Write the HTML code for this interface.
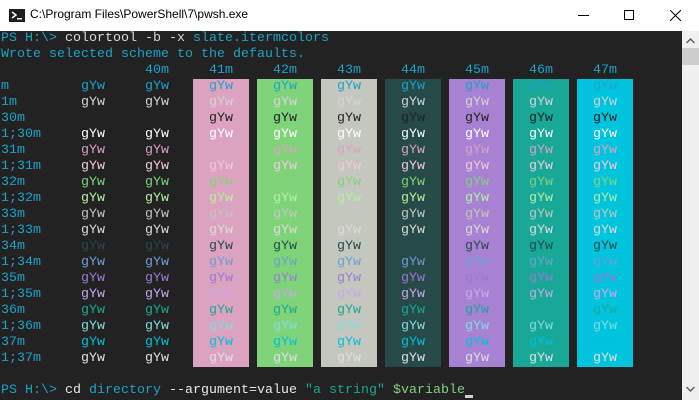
<!DOCTYPE html>
<html><head><meta charset="utf-8"><style>
*{margin:0;padding:0;box-sizing:border-box}
body{width:699px;height:400px;overflow:hidden;background:#fff;position:relative;font-family:"Liberation Mono",monospace}
#title{position:absolute;left:0;top:0;width:699px;height:31px;background:#fff}
#title .t{position:absolute;left:30px;top:7px;font:12px "Liberation Sans",sans-serif;color:#000}
#term{position:absolute;left:0;top:31px;width:682px;height:369px;background:#222222}
#sb{position:absolute;left:682px;top:31px;width:17px;height:369px;background:#f0f0f0}
.bar{position:absolute;top:48px;width:56px;height:288px}
.r{position:absolute;left:0;height:16px;width:680px;font-size:13.33px;line-height:16px;white-space:pre}
.r span{position:absolute;top:0}
.c{color:#1ba3c8}
</style></head><body>
<div id="title">
<svg style="position:absolute;left:9px;top:9px" width="16" height="13"><rect width="16" height="13" fill="#1e1e1e"/><path d="M3 3 L7 6 L3 9" stroke="#fff" stroke-width="1.5" fill="none"/><rect x="8" y="9" width="5" height="1.5" fill="#fff"/></svg>
<div class="t">C:\Program Files\PowerShell\7\pwsh.exe</div>
<div style="position:absolute;left:578px;top:15px;width:11px;height:1px;background:#000"></div>
<div style="position:absolute;left:624px;top:10px;width:10px;height:10px;border:1px solid #000"></div>
<svg style="position:absolute;left:670px;top:10px" width="11" height="11"><path d="M0 0L11 11M11 0L0 11" stroke="#000" stroke-width="1"/></svg>
</div>
<div id="term">
<div class="bar" style="left:193px;background:#dba3bf"></div>
<div class="bar" style="left:257px;background:#7fd47a"></div>
<div class="bar" style="left:321px;background:#c3c7bd"></div>
<div class="bar" style="left:385px;background:#264a48"></div>
<div class="bar" style="left:449px;background:#a882d2"></div>
<div class="bar" style="left:513px;background:#17a897"></div>
<div class="bar" style="left:577px;background:#00c4de"></div>

<div class="r" style="top:0"><span style="left:1px" class="c">PS H:\&gt; </span><span style="left:65px;color:#d8d8d8">colortool -b -x</span><span style="left:193px" class="c">slate.itermcolors</span></div>
<div class="r c" style="top:16px"><span style="left:1px">Wrote selected scheme to the defaults.</span></div>
<div class="r c" style="top:32px"><span style="left:145px">40m</span><span style="left:209px">41m</span><span style="left:273px">42m</span><span style="left:337px">43m</span><span style="left:401px">44m</span><span style="left:465px">45m</span><span style="left:529px">46m</span><span style="left:593px">47m</span></div>

<div class="r" style="top:48px;color:#1ba3c8"><span class="c" style="left:1px">m</span><span style="left:81px">gYw</span><span style="left:145px">gYw</span><span style="left:209px">gYw</span><span style="left:273px">gYw</span><span style="left:337px">gYw</span><span style="left:401px">gYw</span><span style="left:465px">gYw</span><span style="left:529px">gYw</span><span style="left:593px">gYw</span></div>
<div class="r" style="top:64px;color:#d4d4d4"><span class="c" style="left:1px">1m</span><span style="left:81px">gYw</span><span style="left:145px">gYw</span><span style="left:209px">gYw</span><span style="left:273px">gYw</span><span style="left:337px">gYw</span><span style="left:401px">gYw</span><span style="left:465px">gYw</span><span style="left:529px">gYw</span><span style="left:593px">gYw</span></div>
<div class="r" style="top:80px;color:#222222"><span class="c" style="left:1px">30m</span><span style="left:81px">gYw</span><span style="left:145px">gYw</span><span style="left:209px">gYw</span><span style="left:273px">gYw</span><span style="left:337px">gYw</span><span style="left:401px">gYw</span><span style="left:465px">gYw</span><span style="left:529px">gYw</span><span style="left:593px">gYw</span></div>
<div class="r" style="top:96px;color:#ffffff"><span class="c" style="left:1px">1;30m</span><span style="left:81px">gYw</span><span style="left:145px">gYw</span><span style="left:209px">gYw</span><span style="left:273px">gYw</span><span style="left:337px">gYw</span><span style="left:401px">gYw</span><span style="left:465px">gYw</span><span style="left:529px">gYw</span><span style="left:593px">gYw</span></div>
<div class="r" style="top:112px;color:#dba3bf"><span class="c" style="left:1px">31m</span><span style="left:81px">gYw</span><span style="left:145px">gYw</span><span style="left:209px">gYw</span><span style="left:273px">gYw</span><span style="left:337px">gYw</span><span style="left:401px">gYw</span><span style="left:465px">gYw</span><span style="left:529px">gYw</span><span style="left:593px">gYw</span></div>
<div class="r" style="top:128px;color:#f2cad9"><span class="c" style="left:1px">1;31m</span><span style="left:81px">gYw</span><span style="left:145px">gYw</span><span style="left:209px">gYw</span><span style="left:273px">gYw</span><span style="left:337px">gYw</span><span style="left:401px">gYw</span><span style="left:465px">gYw</span><span style="left:529px">gYw</span><span style="left:593px">gYw</span></div>
<div class="r" style="top:144px;color:#7fd47a"><span class="c" style="left:1px">32m</span><span style="left:81px">gYw</span><span style="left:145px">gYw</span><span style="left:209px">gYw</span><span style="left:273px">gYw</span><span style="left:337px">gYw</span><span style="left:401px">gYw</span><span style="left:465px">gYw</span><span style="left:529px">gYw</span><span style="left:593px">gYw</span></div>
<div class="r" style="top:160px;color:#b4f0a0"><span class="c" style="left:1px">1;32m</span><span style="left:81px">gYw</span><span style="left:145px">gYw</span><span style="left:209px">gYw</span><span style="left:273px">gYw</span><span style="left:337px">gYw</span><span style="left:401px">gYw</span><span style="left:465px">gYw</span><span style="left:529px">gYw</span><span style="left:593px">gYw</span></div>
<div class="r" style="top:176px;color:#c3c7bd"><span class="c" style="left:1px">33m</span><span style="left:81px">gYw</span><span style="left:145px">gYw</span><span style="left:209px">gYw</span><span style="left:273px">gYw</span><span style="left:337px">gYw</span><span style="left:401px">gYw</span><span style="left:465px">gYw</span><span style="left:529px">gYw</span><span style="left:593px">gYw</span></div>
<div class="r" style="top:192px;color:#dcdcd6"><span class="c" style="left:1px">1;33m</span><span style="left:81px">gYw</span><span style="left:145px">gYw</span><span style="left:209px">gYw</span><span style="left:273px">gYw</span><span style="left:337px">gYw</span><span style="left:401px">gYw</span><span style="left:465px">gYw</span><span style="left:529px">gYw</span><span style="left:593px">gYw</span></div>
<div class="r" style="top:208px;color:#264a48"><span class="c" style="left:1px">34m</span><span style="left:81px">gYw</span><span style="left:145px">gYw</span><span style="left:209px">gYw</span><span style="left:273px">gYw</span><span style="left:337px">gYw</span><span style="left:401px">gYw</span><span style="left:465px">gYw</span><span style="left:529px">gYw</span><span style="left:593px">gYw</span></div>
<div class="r" style="top:224px;color:#6aa0d0"><span class="c" style="left:1px">1;34m</span><span style="left:81px">gYw</span><span style="left:145px">gYw</span><span style="left:209px">gYw</span><span style="left:273px">gYw</span><span style="left:337px">gYw</span><span style="left:401px">gYw</span><span style="left:465px">gYw</span><span style="left:529px">gYw</span><span style="left:593px">gYw</span></div>
<div class="r" style="top:240px;color:#9a7ad2"><span class="c" style="left:1px">35m</span><span style="left:81px">gYw</span><span style="left:145px">gYw</span><span style="left:209px">gYw</span><span style="left:273px">gYw</span><span style="left:337px">gYw</span><span style="left:401px">gYw</span><span style="left:465px">gYw</span><span style="left:529px">gYw</span><span style="left:593px">gYw</span></div>
<div class="r" style="top:256px;color:#c8a8e8"><span class="c" style="left:1px">1;35m</span><span style="left:81px">gYw</span><span style="left:145px">gYw</span><span style="left:209px">gYw</span><span style="left:273px">gYw</span><span style="left:337px">gYw</span><span style="left:401px">gYw</span><span style="left:465px">gYw</span><span style="left:529px">gYw</span><span style="left:593px">gYw</span></div>
<div class="r" style="top:272px;color:#17a897"><span class="c" style="left:1px">36m</span><span style="left:81px">gYw</span><span style="left:145px">gYw</span><span style="left:209px">gYw</span><span style="left:273px">gYw</span><span style="left:337px">gYw</span><span style="left:401px">gYw</span><span style="left:465px">gYw</span><span style="left:529px">gYw</span><span style="left:593px">gYw</span></div>
<div class="r" style="top:288px;color:#80dde0"><span class="c" style="left:1px">1;36m</span><span style="left:81px">gYw</span><span style="left:145px">gYw</span><span style="left:209px">gYw</span><span style="left:273px">gYw</span><span style="left:337px">gYw</span><span style="left:401px">gYw</span><span style="left:465px">gYw</span><span style="left:529px">gYw</span><span style="left:593px">gYw</span></div>
<div class="r" style="top:304px;color:#00c0dc"><span class="c" style="left:1px">37m</span><span style="left:81px">gYw</span><span style="left:145px">gYw</span><span style="left:209px">gYw</span><span style="left:273px">gYw</span><span style="left:337px">gYw</span><span style="left:401px">gYw</span><span style="left:465px">gYw</span><span style="left:529px">gYw</span><span style="left:593px">gYw</span></div>
<div class="r" style="top:320px;color:#e0e0e0"><span class="c" style="left:1px">1;37m</span><span style="left:81px">gYw</span><span style="left:145px">gYw</span><span style="left:209px">gYw</span><span style="left:273px">gYw</span><span style="left:337px">gYw</span><span style="left:401px">gYw</span><span style="left:465px">gYw</span><span style="left:529px">gYw</span><span style="left:593px">gYw</span></div>

<div class="r" style="top:352px"><span class="c" style="left:1px">PS H:\&gt;</span><span style="left:65px;color:#e8e8e8">cd</span><span class="c" style="left:89px">directory</span><span style="left:169px;color:#e8e8e8">--argument=value</span><span style="left:305px;color:#17a897">"a string"</span><span style="left:393px;color:#7fd47a">$variable</span><span style="left:465px;top:12px;width:8px;height:3px;background:#d0d0d0"></span></div>
</div>
<div id="sb">
<svg style="position:absolute;left:4px;top:7px" width="9" height="6"><path d="M0.5 5L4.5 1L8.5 5" stroke="#606060" stroke-width="1.5" fill="none"/></svg>
<div style="position:absolute;left:0;top:17px;width:17px;height:17px;background:#cdcdcd"></div>
<svg style="position:absolute;left:4px;top:355px" width="9" height="6"><path d="M0.5 1L4.5 5L8.5 1" stroke="#606060" stroke-width="1.5" fill="none"/></svg>
</div>
</body></html>
